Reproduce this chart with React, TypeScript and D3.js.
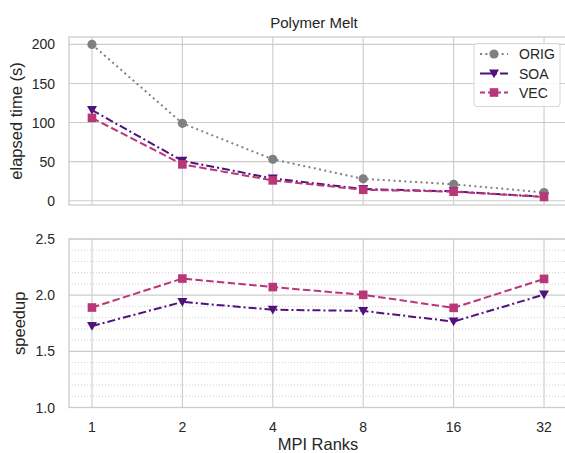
import React from "react";
import * as d3 from "d3";

const ranks = [1, 2, 4, 8, 16, 32];
const rankLabels = ["1", "2", "4", "8", "16", "32"];
const origTime = [200, 99, 53, 28, 21, 10.5];
const soaTime = [116, 51, 28.5, 15, 12, 5];
const vecTime = [106, 46.5, 26, 14, 11.5, 4.8];
const soaSpeedup = [1.725, 1.94, 1.87, 1.86, 1.765, 2.005];
const vecSpeedup = [1.89, 2.148, 2.072, 2.003, 1.887, 2.145];
const timeTicks = [0, 50, 100, 150, 200];
const speedTicks = [1.0, 1.5, 2.0, 2.5];
const speedMinor = [1.1, 1.2, 1.3, 1.4, 1.6, 1.7, 1.8, 1.9, 2.1, 2.2, 2.3, 2.4];

const FONT = "'Liberation Sans', Arial, sans-serif";
const TEXT = "#262626";
const GRID = "#cccccc";
const C_ORIG = "#808080";
const C_SOA = "#51127c";
const C_VEC = "#b73779";

const W = 565, H = 453;
const X0 = 69, X1 = 567;
const T0 = 37, T1 = 205;
const B0 = 239, B1 = 407.5;

export default function App() {
  const x = d3.scaleLog().base(2).domain([Math.pow(2, -0.254), Math.pow(2, 5.254)]).range([X0, X1]);
  const yT = d3.scaleLinear().domain([-5.5, 209.5]).range([T1, T0]);
  const yB = d3.scaleLinear().domain([1.0, 2.5]).range([B1, B0]);

  const lineT = d3.line<number>().x((_, i) => x(ranks[i])).y((d) => yT(d));
  const lineB = d3.line<number>().x((_, i) => x(ranks[i])).y((d) => yB(d));

  const tri = (cx: number, cy: number, s = 5) =>
    `M${cx - s},${cy - s * 0.8}L${cx + s},${cy - s * 0.8}L${cx},${cy + s * 0.95}Z`;
  const sq = (cx: number, cy: number, s = 4.3) => (
    <rect x={cx - s} y={cy - s} width={2 * s} height={2 * s} fill={C_VEC} />
  );

  const dashSOA = "8,3,2,3";
  const dashVEC = "7.5,3.3";
  const dashORIG = "2,3.4";

  return (
    <svg width={W} height={H} style={{ position: "absolute", left: 0, top: 0, background: "#fff" }} fontFamily={FONT}>
      <rect width={W} height={H} fill="#fff" />
      <defs>
        <clipPath id="ct"><rect x={X0} y={T0} width={X1 - X0} height={T1 - T0} /></clipPath>
        <clipPath id="cb"><rect x={X0} y={B0} width={X1 - X0} height={B1 - B0} /></clipPath>
      </defs>

      {/* Top panel grid */}
      {ranks.map((r, i) => (
        <line key={"tv" + i} x1={x(r)} x2={x(r)} y1={T0} y2={T1} stroke={GRID} strokeWidth={1.1} />
      ))}
      {timeTicks.map((t) => (
        <line key={"th" + t} x1={X0} x2={X1} y1={yT(t)} y2={yT(t)} stroke={GRID} strokeWidth={1.1} />
      ))}
      <rect x={X0} y={T0} width={X1 - X0} height={T1 - T0} fill="none" stroke={GRID} strokeWidth={1.3} />

      {/* Bottom panel grid */}
      {speedMinor.map((t) => (
        <line key={"bm" + t} x1={X0} x2={X1} y1={yB(t)} y2={yB(t)} stroke={GRID} strokeWidth={0.9} strokeDasharray="1,2" />
      ))}
      {ranks.map((r, i) => (
        <line key={"bv" + i} x1={x(r)} x2={x(r)} y1={B0} y2={B1} stroke={GRID} strokeWidth={1.1} />
      ))}
      {speedTicks.map((t) => (
        <line key={"bh" + t} x1={X0} x2={X1} y1={yB(t)} y2={yB(t)} stroke={GRID} strokeWidth={1.1} />
      ))}
      <rect x={X0} y={B0} width={X1 - X0} height={B1 - B0} fill="none" stroke={GRID} strokeWidth={1.3} />

      {/* Top lines */}
      <g clipPath="url(#ct)">
        <path d={lineT(origTime) || ""} fill="none" stroke={C_ORIG} strokeWidth={2} strokeDasharray={dashORIG} />
        {origTime.map((v, i) => (
          <circle key={"oc" + i} cx={x(ranks[i])} cy={yT(v)} r={4.6} fill={C_ORIG} />
        ))}
        <path d={lineT(soaTime) || ""} fill="none" stroke={C_SOA} strokeWidth={2} strokeDasharray={dashSOA} />
        {soaTime.map((v, i) => (
          <path key={"st" + i} d={tri(x(ranks[i]), yT(v))} fill={C_SOA} />
        ))}
        <path d={lineT(vecTime) || ""} fill="none" stroke={C_VEC} strokeWidth={2} strokeDasharray={dashVEC} />
        {vecTime.map((v, i) => (
          <g key={"vs" + i}>{sq(x(ranks[i]), yT(v))}</g>
        ))}
      </g>

      {/* Bottom lines */}
      <g clipPath="url(#cb)">
        <path d={lineB(soaSpeedup) || ""} fill="none" stroke={C_SOA} strokeWidth={2} strokeDasharray={dashSOA} />
        {soaSpeedup.map((v, i) => (
          <path key={"sb" + i} d={tri(x(ranks[i]), yB(v))} fill={C_SOA} />
        ))}
        <path d={lineB(vecSpeedup) || ""} fill="none" stroke={C_VEC} strokeWidth={2} strokeDasharray={dashVEC} />
        {vecSpeedup.map((v, i) => (
          <g key={"vb" + i}>{sq(x(ranks[i]), yB(v))}</g>
        ))}
      </g>

      {/* Tick labels */}
      {timeTicks.map((t) => (
        <text key={"tl" + t} x={55} y={yT(t)} dy="0.36em" textAnchor="end" fontSize={14} fill={TEXT}>{t}</text>
      ))}
      {speedTicks.map((t) => (
        <text key={"bl" + t} x={55} y={yB(t)} dy="0.36em" textAnchor="end" fontSize={14} fill={TEXT}>{t.toFixed(1)}</text>
      ))}
      {ranks.map((r, i) => (
        <text key={"xl" + i} x={x(r)} y={431.5} textAnchor="middle" fontSize={14} fill={TEXT}>{rankLabels[i]}</text>
      ))}

      {/* Axis labels and title */}
      <text x={318} y={450} textAnchor="middle" fontSize={16.5} fill={TEXT}>MPI Ranks</text>
      <text transform={`translate(21.5,${(T0 + T1) / 2}) rotate(-90)`} textAnchor="middle" fontSize={16.5} fill={TEXT}>elapsed time (s)</text>
      <text transform={`translate(24.5,${(B0 + B1) / 2}) rotate(-90)`} textAnchor="middle" fontSize={16.5} fill={TEXT}>speedup</text>
      <text x={314} y={27.5} textAnchor="middle" fontSize={15} fill={TEXT}>Polymer Melt</text>

      {/* Legend */}
      <g>
        <rect x={474} y={43.5} width={86} height={63} rx={3} fill="#fff" fillOpacity={0.85} stroke="#d6d6d6" strokeWidth={1} />
        {[
          { name: "ORIG", c: C_ORIG, dash: dashORIG, y: 54 },
          { name: "SOA", c: C_SOA, dash: "12,3,2,3", y: 73.5 },
          { name: "VEC", c: C_VEC, dash: "5,3", y: 92.5 },
        ].map((e, i) => (
          <g key={e.name}>
            <line x1={480} x2={508} y1={e.y} y2={e.y} stroke={e.c} strokeWidth={2} strokeDasharray={e.dash} />
            {i === 0 && <circle cx={494} cy={e.y} r={4.6} fill={e.c} />}
            {i === 1 && <path d={tri(494, e.y)} fill={e.c} />}
            {i === 2 && sq(494, e.y)}
            <text x={519} y={e.y} dy="0.36em" fontSize={14} fill={TEXT}>{e.name}</text>
          </g>
        ))}
      </g>
    </svg>
  );
}
